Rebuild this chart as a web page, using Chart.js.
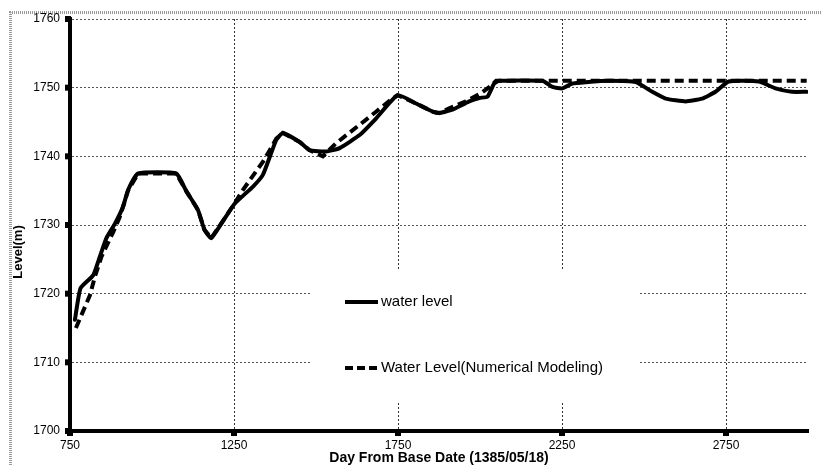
<!DOCTYPE html>
<html>
<head>
<meta charset="utf-8">
<script src="https://cdn.jsdelivr.net/npm/chart.js@4/dist/chart.umd.min.js"></script>
<style>
  html, body { margin: 0; padding: 0; background: #fff; }
  #wrap { width: 822px; height: 465px; position: relative; }
</style>
</head>
<body>
<div id="wrap"><canvas id="c" width="822" height="465"></canvas></div>
<script>
// Observed water level (solid)
const obsDays = [765, 782, 821, 841, 861, 887, 912, 927, 958, 1074, 1105, 1140, 1160, 1181, 1250, 1308, 1338, 1359, 1379, 1399, 1450, 1480, 1531, 1572, 1633, 1683, 1749, 1805, 1856, 1876, 1916, 1967, 1998, 2023, 2043, 2058, 2190, 2221, 2251, 2281, 2322, 2394, 2475, 2525, 2566, 2627, 2677, 2718, 2758, 2850, 2901, 2951, 2996];
const obsLevels = [1716.2, 1720.8, 1722.7, 1725.4, 1728.1, 1730.2, 1732.7, 1735.1, 1737.5, 1737.5, 1734.9, 1732.2, 1729.3, 1728.1, 1733.0, 1735.6, 1737.3, 1739.9, 1742.4, 1743.4, 1742.1, 1740.9, 1740.7, 1741.2, 1743.1, 1745.5, 1748.9, 1747.7, 1746.5, 1746.3, 1746.8, 1748.0, 1748.5, 1748.7, 1750.6, 1751.0, 1751.0, 1750.1, 1749.9, 1750.6, 1750.8, 1751.0, 1750.8, 1749.4, 1748.4, 1748.0, 1748.4, 1749.4, 1750.9, 1750.9, 1749.9, 1749.4, 1749.4];

// Numerical modelling (dashed)
const modelDays = [768, 811, 826, 846, 882, 902, 927, 958, 1074, 1105, 1140, 1160, 1181, 1250, 1277, 1338, 1359, 1379, 1399, 1450, 1480, 1521, 1561, 1633, 1683, 1727, 1749, 1805, 1856, 1876, 1906, 1957, 2003, 2029, 2049, 2996];
const modelLevels = [1715.0, 1719.8, 1722.5, 1725.4, 1729.0, 1731.2, 1735.0, 1737.5, 1737.5, 1734.9, 1732.2, 1729.3, 1728.1, 1733.0, 1735.1, 1739.2, 1740.9, 1742.6, 1743.4, 1742.1, 1740.9, 1740.0, 1741.9, 1744.6, 1746.5, 1748.2, 1748.9, 1747.7, 1746.5, 1746.3, 1747.0, 1748.0, 1749.2, 1750.1, 1751.0, 1751.0];

const xTickValues = [750, 1250, 1750, 2250, 2750];
const yTickValues = [1700, 1710, 1720, 1730, 1740, 1750, 1760];
const seriesNames = ['water level', 'Water Level(Numerical Modeling)'];
const xTitle = 'Day From Base Date (1385/05/18)';
const yTitle = 'Level(m)';

const toPoints = (xs, ys) => xs.map((x, i) => ({ x: x, y: ys[i] }));

const FONT = '"Liberation Sans", Arial, sans-serif';

const framePlugin = {
  id: 'frame',
  beforeDraw(chart) {
    const ctx = chart.ctx;
    ctx.save();
    ctx.fillStyle = '#fff';
    ctx.fillRect(0, 0, chart.width, chart.height);
    ctx.strokeStyle = '#9a9a9a';
    ctx.lineWidth = 3;
    ctx.setLineDash([1, 1]);
    ctx.beginPath();
    ctx.moveTo(10.5, chart.height + 2);
    ctx.lineTo(10.5, 12.5);
    ctx.lineTo(chart.width + 2, 12.5);
    ctx.stroke();
    ctx.restore();
  }
};

const legendPlugin = {
  id: 'customLegend',
  beforeDatasetsDraw(chart) {
    const ctx = chart.ctx;
    ctx.save();
    ctx.fillStyle = '#fff';
    ctx.fillRect(311, 270, 329, 132);
    ctx.strokeStyle = '#000';
    ctx.lineWidth = 4;
    ctx.beginPath();
    ctx.moveTo(345, 302);
    ctx.lineTo(378, 302);
    ctx.stroke();
    ctx.setLineDash([8, 4]);
    ctx.beginPath();
    ctx.moveTo(345, 368);
    ctx.lineTo(379, 368);
    ctx.stroke();
    ctx.setLineDash([]);
    ctx.fillStyle = '#000';
    ctx.font = '15px ' + FONT;
    ctx.textBaseline = 'middle';
    ctx.textAlign = 'left';
    ctx.fillText(seriesNames[0], 381, 302);
    ctx.fillText(seriesNames[1], 381, 368);
    ctx.restore();
  },
  afterDraw(chart) {
    const ctx = chart.ctx;
    const xs = chart.scales.x, ys = chart.scales.y;
    const a = chart.chartArea;
    ctx.save();
    ctx.fillStyle = '#000';
    xTickValues.forEach(v => {
      const px = xs.getPixelForValue(v);
      ctx.fillRect(px - 3, a.bottom - 1, 6, 6);
    });
    yTickValues.forEach(v => {
      const py = ys.getPixelForValue(v);
      ctx.fillRect(a.left - 5, py - 3, 6, 6);
    });
    // y-axis title
    ctx.translate(18, 252);
    ctx.rotate(-Math.PI / 2);
    ctx.font = 'bold 13px ' + FONT;
    ctx.textAlign = 'center';
    ctx.textBaseline = 'middle';
    ctx.fillText(yTitle, 0, 0);
    ctx.restore();
  }
};

new Chart(document.getElementById('c'), {
  type: 'line',
  data: {
    datasets: [
      {
        label: seriesNames[1],
        data: toPoints(modelDays, modelLevels),
        borderColor: '#000',
        borderWidth: 4,
        borderDash: [9, 5],
        pointRadius: 0,
        fill: false,
        tension: 0,
        order: 0
      },
      {
        label: seriesNames[0],
        data: toPoints(obsDays, obsLevels),
        borderColor: '#000',
        borderWidth: 4,
        pointRadius: 0,
        fill: false,
        tension: 0.15,
        borderJoinStyle: 'round',
        borderCapStyle: 'round',
        order: 1
      }
    ]
  },
  options: {
    responsive: false,
    animation: false,
    layout: { padding: { left: 10, right: 14, top: 19, bottom: 0 } },
    plugins: { legend: { display: false }, tooltip: { enabled: false } },
    scales: {
      x: {
        type: 'linear',
        min: 750,
        max: 3000,
        afterBuildTicks: s => { s.ticks = xTickValues.map(v => ({ value: v })); },
        afterFit: s => { s.height = 34; },
        ticks: { color: '#000', font: { family: FONT, size: 12, lineHeight: 1.0 }, padding: 9, maxRotation: 0, callback: v => String(v) },
        grid: { color: '#333', lineWidth: 1, drawTicks: false },
        border: { color: '#000', width: 4, dash: [2, 2] },
        title: { display: true, text: xTitle, color: '#000', font: { family: FONT, size: 14, weight: 'bold', lineHeight: 1.0 }, padding: { top: 0, bottom: 0 } }
      },
      y: {
        type: 'linear',
        min: 1700,
        max: 1760,
        afterBuildTicks: s => { s.ticks = yTickValues.map(v => ({ value: v })); },
        afterFit: s => { s.width = 60; },
        ticks: { color: '#000', font: { family: FONT, size: 12 }, padding: 10, callback: v => String(v) },
        grid: { color: '#555', lineWidth: 1, drawTicks: false },
        border: { color: '#000', width: 4, dash: [2, 2] },
        title: { display: false }
      }
    }
  },
  plugins: [framePlugin, legendPlugin]
});
</script>
</body>
</html>
